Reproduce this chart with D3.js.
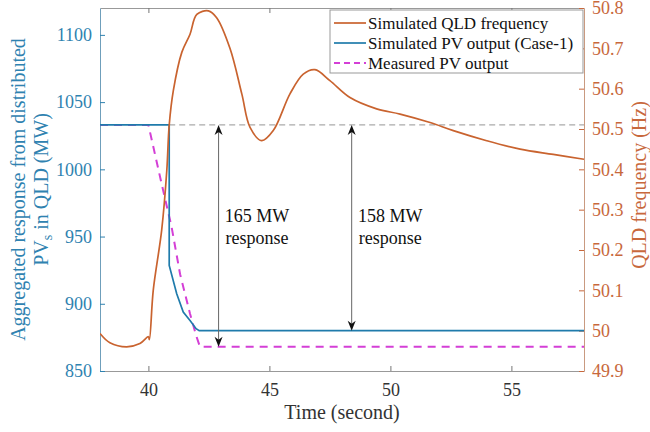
<!DOCTYPE html>
<html>
<head>
<meta charset="utf-8">
<script src="https://cdn.jsdelivr.net/npm/d3@7"></script>
<style>
  body { margin: 0; background: #fff; }
  svg text { font-family: "Liberation Serif", "Times New Roman", serif; }
</style>
</head>
<body>
<svg id="chart" width="650" height="432"></svg>
<script>
// simulated QLD frequency (Hz)
const freqTime = [38.0, 38.41, 39.1, 39.65, 40.0, 40.04, 40.2, 40.55, 40.76, 40.86, 41.03, 41.38, 41.72, 42.0,
  42.48, 42.82, 43.37, 43.86, 44.2, 44.68, 45.16, 45.85, 46.4, 46.88, 47.5, 48.33, 49.43, 50.4,
  51.64, 52.6, 53.98, 55.36, 56.73, 58.0];
const freqHz = [49.993, 49.97, 49.96, 49.968, 49.985, 49.978, 50.1, 50.25, 50.397, 50.51, 50.595, 50.69, 50.735, 50.784,
  50.793, 50.776, 50.70, 50.587, 50.504, 50.471, 50.496, 50.587, 50.636, 50.647, 50.62, 50.578, 50.55, 50.537,
  50.516, 50.496, 50.471, 50.45, 50.437, 50.425];

// simulated PV output, case 1 (MW)
const simTime = [38.0, 40.86, 40.86, 41.17, 41.44, 41.72, 41.97, 42.1, 58.0];
const simPV = [1033, 1033, 928.5, 907.5, 893.8, 887.6, 881.5, 880, 880];

// measured PV output (MW)
const measTime = [38.0, 40.0, 40.55, 40.96, 41.31, 41.72, 41.97, 42.13, 58.0];
const measPV = [1033, 1033, 989, 957, 922, 892.6, 876.5, 868, 868];

const xTicks = [40, 45, 50, 55];
const pvTicks = [850, 900, 950, 1000, 1050, 1100];
const hzTicks = [49.9, 50, 50.1, 50.2, 50.3, 50.4, 50.5, 50.6, 50.7, 50.8];

const preEventPV = 1033;
const responses = [
  { t: 42.9, to: 868, lines: ["165 MW", "response"] },
  { t: 48.4, to: 880, lines: ["158 MW", "response"] }
];

const legendNames = ["Simulated QLD frequency", "Simulated PV output (Case-1)", "Measured PV output"];

const blue = "#1f7bab", orange = "#c9632f", pink = "#d43fd6";
const blueText = "#2f82b0", orangeText = "#c8683c";

var svg = d3.select("#chart");
var pL = 100, pR = 584, pT = 8, pB = 371;

var x = d3.scaleLinear().domain([38, 58]).range([pL, pR]);
var yL = d3.scaleLinear().domain([850, 1120]).range([pB, pT]);
var yR = d3.scaleLinear().domain([49.9, 50.8]).range([pB, pT]);

svg.append("defs").append("clipPath").attr("id", "plot")
  .append("rect").attr("x", pL).attr("y", pT).attr("width", pR - pL).attr("height", pB - pT);

// axes
var fmtHz = d => String(+d.toFixed(1));

var gx = svg.append("g").attr("transform", "translate(0," + pB + ")")
  .call(d3.axisBottom(x).tickValues(xTicks).tickSizeInner(-5).tickSizeOuter(0).tickPadding(12));
gx.selectAll("text").attr("fill", "#333").style("font-size", "18px");
gx.selectAll("line").attr("stroke", "#777");
gx.select(".domain").attr("stroke", "#999");

var gt = svg.append("g").attr("transform", "translate(0," + pT + ")")
  .call(d3.axisTop(x).tickValues(xTicks).tickSizeInner(-5).tickSizeOuter(0).tickFormat(""));
gt.selectAll("line").attr("stroke", "#777");
gt.select(".domain").attr("stroke", "#999");

var gl = svg.append("g").attr("transform", "translate(" + pL + ",0)")
  .call(d3.axisLeft(yL).tickValues(pvTicks).tickFormat(d3.format("d"))
    .tickSizeInner(-5).tickSizeOuter(0).tickPadding(8));
gl.selectAll("text").attr("fill", blueText).style("font-size", "18px");
gl.selectAll("line").attr("stroke", blueText);
gl.select(".domain").attr("stroke", "#6f9fbb");

var gr = svg.append("g").attr("transform", "translate(" + pR + ",0)")
  .call(d3.axisRight(yR).tickValues(hzTicks).tickFormat(fmtHz).tickSizeInner(-5).tickSizeOuter(0).tickPadding(8));
gr.selectAll("text").attr("fill", orangeText).style("font-size", "18px");
gr.selectAll("line").attr("stroke", orangeText);
gr.select(".domain").attr("stroke", "#c99a80");

// axis titles
svg.append("text").attr("x", (pL + pR) / 2).attr("y", 419)
  .attr("text-anchor", "middle").attr("fill", "#333").style("font-size", "20px")
  .text("Time (second)");

var ttl = svg.append("g").attr("transform", "translate(25," + (pT + pB) / 2 + ") rotate(-90)");
ttl.append("text").attr("text-anchor", "middle").attr("fill", blueText).style("font-size", "20px")
  .text("Aggregated response from distributed");
var t2 = ttl.append("text").attr("y", 23).attr("text-anchor", "middle").attr("fill", blueText).style("font-size", "20px");
t2.append("tspan").text("PV");
t2.append("tspan").attr("dy", 4).style("font-size", "14px").text("s");
t2.append("tspan").attr("dy", -4).text(" in QLD (MW)");

svg.append("g").attr("transform", "translate(646,185) rotate(-90)")
  .append("text").attr("text-anchor", "middle").attr("fill", orangeText).style("font-size", "20px")
  .text("QLD frequency (Hz)");

// curves
var plot = svg.append("g").attr("clip-path", "url(#plot)");

plot.append("line")
  .attr("x1", x(40.86)).attr("x2", x(58)).attr("y1", yL(preEventPV)).attr("y2", yL(preEventPV))
  .attr("stroke", "#aaa").attr("stroke-width", 1.2).attr("stroke-dasharray", "6,4");

var lineL = d3.line().x(d => x(d[0])).y(d => yL(d[1]));
var lineR = d3.line().x(d => x(d[0])).y(d => yR(d[1])).curve(d3.curveCatmullRom.alpha(0.5));

plot.append("path").datum(d3.zip(measTime, measPV))
  .attr("d", lineL).attr("fill", "none").attr("stroke", pink)
  .attr("stroke-width", 2).attr("stroke-dasharray", "8,6");

plot.append("path").datum(d3.zip(simTime, simPV))
  .attr("d", lineL).attr("fill", "none").attr("stroke", blue).attr("stroke-width", 1.7);

plot.append("path").datum(d3.zip(freqTime, freqHz))
  .attr("d", lineR).attr("fill", "none").attr("stroke", orange).attr("stroke-width", 1.7);

// response arrows
function head(px, py, dir) {
  // dir = 1 points up, -1 points down
  return "M" + px + "," + py + "L" + (px - 4) + "," + (py + dir * 10) +
    "L" + px + "," + (py + dir * 7) + "L" + (px + 4) + "," + (py + dir * 10) + "Z";
}

responses.forEach(function (r) {
  var ax = x(r.t), y0 = yL(preEventPV), y1 = yL(r.to);
  svg.append("line").attr("x1", ax).attr("x2", ax).attr("y1", y0 + 6).attr("y2", y1 - 6)
    .attr("stroke", "#666").attr("stroke-width", 1);
  svg.append("path").attr("d", head(ax, y0, 1)).attr("fill", "#111");
  svg.append("path").attr("d", head(ax, y1, -1)).attr("fill", "#111");
  var tx = ax + 38.5;
  r.lines.forEach(function (s, i) {
    svg.append("text").attr("x", tx).attr("y", 222 + i * 22).attr("text-anchor", "middle")
      .attr("fill", "#111").style("font-size", "18px").text(s);
  });
});

// legend
var lg = svg.append("g");
lg.append("rect").attr("x", 330).attr("y", 10).attr("width", 253).attr("height", 63)
  .attr("fill", "#fff").attr("stroke", "#999");
var lgStyle = [
  { c: orange, dash: null, w: 1.7 },
  { c: blue, dash: null, w: 1.7 },
  { c: pink, dash: "6,4", w: 2 }
];
legendNames.forEach(function (name, i) {
  var cy = 23 + i * 20;
  lg.append("line").attr("x1", 334).attr("x2", 366).attr("y1", cy).attr("y2", cy)
    .attr("stroke", lgStyle[i].c).attr("stroke-width", lgStyle[i].w)
    .attr("stroke-dasharray", lgStyle[i].dash);
  lg.append("text").attr("x", 368).attr("y", cy + 6).attr("fill", "#111")
    .style("font-size", "17px").text(name);
});
</script>
</body>
</html>
